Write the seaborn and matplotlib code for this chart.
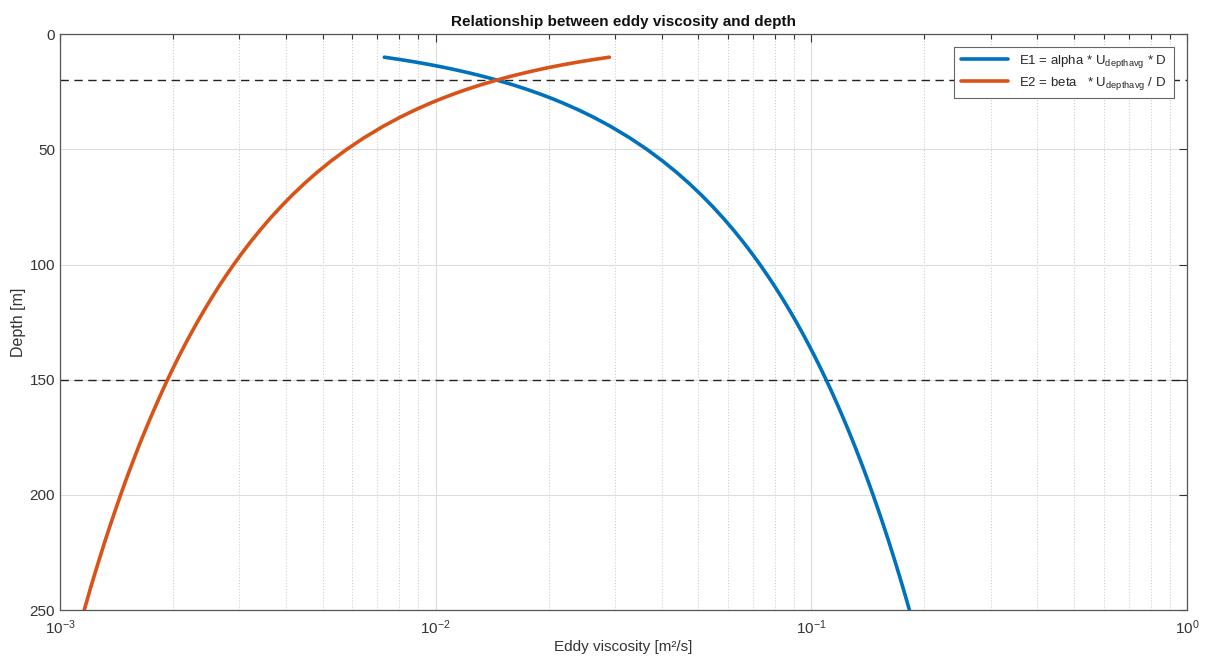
import matplotlib
matplotlib.use("Agg")
import matplotlib.pyplot as plt
import seaborn as sns
import numpy as np
from matplotlib.ticker import LogLocator, NullFormatter

sns.set_theme(style="white")
plt.rcParams['font.family'] = ['Liberation Sans', 'DejaVu Sans']
plt.rcParams['mathtext.default'] = 'regular'
plt.rcParams['axes.unicode_minus'] = False

depth = [10, 11, 12, 13, 14, 15, 16, 17, 18, 19, 20, 22, 24, 26, 28, 30,
         33, 36, 40, 45, 50, 55, 60, 65, 70, 75, 80, 85, 90, 95, 100,
         105, 110, 115, 120, 125, 130, 135, 140, 145, 150, 155, 160, 165,
         170, 175, 180, 185, 190, 195, 200, 205, 210, 215, 220, 225, 230,
         235, 240, 245, 250]
e1 = [0.00730, 0.00803, 0.00876, 0.00949, 0.01022, 0.01095, 0.01168, 0.01241,
      0.01314, 0.01387, 0.01460, 0.01606, 0.01752, 0.01898, 0.02044, 0.02190,
      0.02409, 0.02628, 0.02920, 0.03285, 0.03650, 0.04015, 0.04380, 0.04745,
      0.05110, 0.05475, 0.05840, 0.06205, 0.06570, 0.06935, 0.07300,
      0.07665, 0.08030, 0.08395, 0.08760, 0.09125, 0.09490, 0.09855, 0.10220,
      0.10585, 0.10950, 0.11315, 0.11680, 0.12045, 0.12410, 0.12775, 0.13140,
      0.13505, 0.13870, 0.14235, 0.14600, 0.14965, 0.15330, 0.15695, 0.16060,
      0.16425, 0.16790, 0.17155, 0.17520, 0.17885, 0.18250]
e2 = [0.029000, 0.026364, 0.024167, 0.022308, 0.020714, 0.019333, 0.018125,
      0.017059, 0.016111, 0.015263, 0.014500, 0.013182, 0.012083, 0.011154,
      0.010357, 0.009667, 0.008788, 0.008056, 0.007250, 0.006444, 0.005800,
      0.005273, 0.004833, 0.004462, 0.004143, 0.003867, 0.003625, 0.003412,
      0.003222, 0.003053, 0.002900, 0.002762, 0.002636, 0.002522, 0.002417,
      0.002320, 0.002231, 0.002148, 0.002071, 0.002000, 0.001933, 0.001871,
      0.001813, 0.001758, 0.001706, 0.001657, 0.001611, 0.001568, 0.001526,
      0.001487, 0.001450, 0.001415, 0.001381, 0.001349, 0.001318, 0.001289,
      0.001261, 0.001234, 0.001208, 0.001184, 0.001160]
hlines = [20, 150]
label1 = "E1 = alpha * U$_{depthavg}$ * D"
label2 = "E2 = beta   * U$_{depthavg}$ / D"

fig = plt.figure(figsize=(12.05, 6.57), dpi=100)
ax = fig.add_axes([0.0498, 0.0715, 0.9352, 0.8765])

sns.lineplot(x=e1, y=depth, sort=False, estimator=None, color='#0072BD',
             lw=2.6, ax=ax, label=label1)
sns.lineplot(x=e2, y=depth, sort=False, estimator=None, color='#D95319',
             lw=2.6, ax=ax, label=label2)
for h in hlines:
    ax.axhline(h, color='#222222', lw=1.0, ls=(0, (6, 4)), zorder=1)

ax.set_xscale('log')
ax.set_xlim(1e-3, 1)
ax.set_ylim(250, 0)
ax.set_yticks([0, 50, 100, 150, 200, 250])
ax.xaxis.set_minor_locator(LogLocator(base=10, subs=np.arange(2, 10)))
ax.xaxis.set_minor_formatter(NullFormatter())

ax.grid(True, which='major', axis='both', color='#dddddd', lw=0.8)
ax.grid(True, which='minor', axis='x', color='#d0d0d0', lw=0.8, ls=':')
ax.set_axisbelow(True)

ax.tick_params(which='both', direction='in', top=True, right=True,
               colors='#333333', labelsize=11)
ax.tick_params(which='major', length=6, width=0.8)
ax.tick_params(which='minor', length=3.5, width=0.8)
ax.tick_params(axis='x', which='major', pad=6)
ax.tick_params(axis='y', which='major', pad=3.5)
for sp in ax.spines.values():
    sp.set_color('#555555')
    sp.set_linewidth(0.9)

ax.set_xlabel('Eddy viscosity [m²/s]', fontsize=11, color='#333333', labelpad=2)
ax.set_ylabel('Depth [m]', fontsize=11.5, color='#333333')
ax.yaxis.set_label_coords(-0.030, 0.5)
ax.set_title('Relationship between eddy viscosity and depth', fontsize=11,
             fontweight='bold', color='#111111', pad=6)

leg = ax.legend(loc='upper right', fontsize=9.5, handlelength=3.6,
                frameon=True, fancybox=False, edgecolor='#666666',
                framealpha=1, borderpad=0.5, labelspacing=0.35,
                bbox_to_anchor=(0.994, 0.99))
leg.get_frame().set_linewidth(0.8)

fig.savefig('out.png', dpi=100, facecolor='white')
